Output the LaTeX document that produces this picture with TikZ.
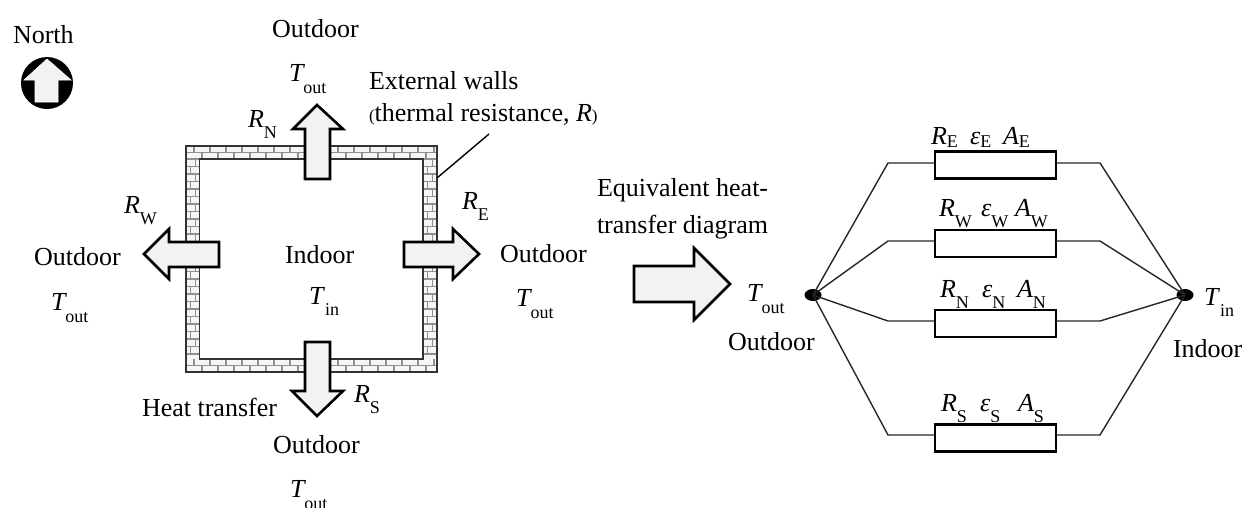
\documentclass[tikz,border=0pt]{standalone}
\usepackage{fontspec}
\setmainfont{Liberation Serif}
\newcommand{\subT}[1]{\kern-1.5pt\raisebox{-12pt}{\fontsize{18}{18}\selectfont #1}}
\newcommand{\subR}[1]{\raisebox{-11pt}{\fontsize{18}{18}\selectfont #1}}
\definecolor{arrowfill}{HTML}{F2F2F2}
\definecolor{brickfill}{HTML}{F6F6F6}
\definecolor{joint}{HTML}{909090}
\tikzset{
  txt/.style={anchor=base west,inner sep=0pt,outer sep=0pt,font=\fontsize{26}{30}\selectfont},
  heat/.style={draw=black,fill=arrowfill,line width=2.6pt,miter limit=10},
  wire/.style={draw=black!85,line width=1.4pt},
  resistor/.style={draw=black,fill=white,line width=2.4pt,minimum width=121pt,minimum height=27pt,inner sep=0pt},
  junction/.style={ellipse,fill=black,minimum width=17pt,minimum height=12pt,inner sep=0pt},
  brick/.style={draw=joint,line width=1.7pt},
  wallline/.style={draw=black!80,line width=1.5pt}
}
\usetikzlibrary{shapes.geometric}
\begin{document}
\begin{tikzpicture}[x=1pt,y=-1pt]
\path[use as bounding box] (0,0) rectangle (1242,507);
% north symbol
\fill[black] (47,83) circle (26);
\draw[fill=arrowfill,draw=white,line width=0.6pt] (47,59)--(71,80)--(58,80)--(58,102)--(35,102)--(35,80)--(24,80)--cycle;
\node[txt] (north) at (13,43) {North};
% wall
\fill[brickfill] (186,146) rectangle (437,372);
\foreach \yy in {146,359}{
  \draw[brick] (186,\yy+6.5) -- (437,\yy+6.5);
  \foreach \xx in {0,1,...,15}{
    \draw[brick] (194+16*\xx,\yy) -- (194+16*\xx,\yy+6.5);
    \draw[brick] (186+16*\xx,\yy+6.5) -- (186+16*\xx,\yy+13);
  }
}
\foreach \xs in {186,423}{
  \foreach \k in {0,2,...,24}{
    \draw[brick] (\xs,159+7.5*\k) -- (\xs+14,159+7.5*\k);
    \draw[brick] (\xs+9.5,159+7.5*\k) -- (\xs+9.5,159+7.5*\k+7.5);
    \draw[brick] (\xs,159+7.5*\k+7.5) -- (\xs+14,159+7.5*\k+7.5);
    \draw[brick] (\xs+4.5,159+7.5*\k+7.5) -- (\xs+4.5,159+7.5*\k+15);
  }
  \draw[brick] (\xs,354) -- (\xs+14,354);
}
\fill[white] (199.5,159) rectangle (423,359);
\draw[wallline] (186,146) rectangle (437,372);
\draw[wallline] (199.5,159) rectangle (423,359);
% leader
\coordinate (leadA) at (437,178);
\coordinate (leadB) at (489,134);
\draw[line width=1.4pt] (leadA) -- (leadB);
% heat arrows
\draw[heat] (317,105)--(343,129)--(330,129)--(330,179)--(305,179)--(305,129)--(293,129)--cycle;
\draw[heat] (317,416)--(343,391)--(330,391)--(330,342)--(305,342)--(305,391)--(292,391)--cycle;
\draw[heat] (144,254)--(169,229)--(169,242)--(219,242)--(219,267)--(169,267)--(169,279)--cycle;
\draw[heat] (479,254)--(453,229)--(453,242)--(404,242)--(404,267)--(453,267)--(453,279)--cycle;
\draw[heat] (730,284)--(694,248)--(694,266)--(634,266)--(634,302)--(694,302)--(694,320)--cycle;
% plan labels
\node[txt] (outN) at (272,37) {Outdoor};
\node[txt] (toutN) at (289,81) {\textit{T}\subT{out}};
\node[txt] (walls) at (369,89) {External walls};
\node[txt] (wallsb) at (369,121) {{\fontsize{17}{17}\selectfont(}thermal resistance, \textit{R}{\fontsize{17}{17}\selectfont)}};
\node[txt] (rN) at (248,127) {\textit{R}\subR{N}};
\node[txt] (rW) at (124,213) {\textit{R}\subR{W}};
\node[txt] (outW) at (34,265) {Outdoor};
\node[txt] (toutW) at (51,310) {\textit{T}\subT{out}};
\node[txt] (rE) at (462,209) {\textit{R}\subR{E}};
\node[txt] (outE) at (500,262) {Outdoor};
\node[txt] (toutE) at (516,306) {\textit{T}\subT{out}};
\node[txt] (indoorC) at (285,263) {Indoor};
\node[txt] (tinC) at (309,304) {\textit{T}\subR{in}};
\node[txt] (heatT) at (142,416) {Heat transfer};
\node[txt] (rS) at (354,402) {\textit{R}\subR{S}};
\node[txt] (outS) at (273,453) {Outdoor};
\node[txt] (toutS) at (290,497) {\textit{T}\subT{out}};
\node[txt] (eqa) at (597,196) {Equivalent heat-};
\node[txt] (eqb) at (597,233) {transfer diagram};
% circuit
\node[junction] (jL) at (813,295) {};
\node[junction] (jR) at (1185,295) {};
\node[resistor] (bE) at (995.5,165) {};
\node[resistor] (bW) at (995.5,243.5) {};
\node[resistor] (bN) at (995.5,323.5) {};
\node[resistor] (bS) at (995.5,438) {};
\coordinate (kEl) at (888,163); \coordinate (kEr) at (1100,163);
\coordinate (kWl) at (888,241); \coordinate (kWr) at (1100,241);
\coordinate (kNl) at (888,321); \coordinate (kNr) at (1100,321);
\coordinate (kSl) at (888,435); \coordinate (kSr) at (1100,435);
\foreach \n in {E,W,N,S}{
  \draw[wire] (jL.center) -- (k\n l) -- (b\n.west |- k\n l);
  \draw[wire] (jR.center) -- (k\n r) -- (b\n.east |- k\n r);
}
\node[txt] (tJL) at (747,301) {\textit{T}\subT{out}};
\node[txt] (oJL) at (728,350) {Outdoor};
\node[txt] (tJR) at (1204,305) {\textit{T}\subR{in}};
\node[txt] (iJR) at (1173,357) {Indoor};
% circuit labels
\node[txt] (cRE) at (931,144) {\textit{R}\raisebox{-3.5pt}{\fontsize{18}{18}\selectfont E}};
\node[txt] (cEE) at (970,144) {\textit{ε}\raisebox{-3.5pt}{\fontsize{18}{18}\selectfont E}};
\node[txt] (cAE) at (1003,144) {\textit{A}\raisebox{-3.5pt}{\fontsize{18}{18}\selectfont E}};
\node[txt] (cRW) at (939,216) {\textit{R}\subR{W}};
\node[txt] (cEW) at (981,216) {\textit{ε}\subR{W}};
\node[txt] (cAW) at (1015,216) {\textit{A}\subR{W}};
\node[txt] (cRN) at (940,297) {\textit{R}\subR{N}};
\node[txt] (cEN) at (982,297) {\textit{ε}\subR{N}};
\node[txt] (cAN) at (1017,297) {\textit{A}\subR{N}};
\node[txt] (cRS) at (941,411) {\textit{R}\subR{S}};
\node[txt] (cES) at (980,411) {\textit{ε}\subR{S}};
\node[txt] (cAS) at (1018,411) {\textit{A}\subR{S}};
\end{tikzpicture}
\end{document}
